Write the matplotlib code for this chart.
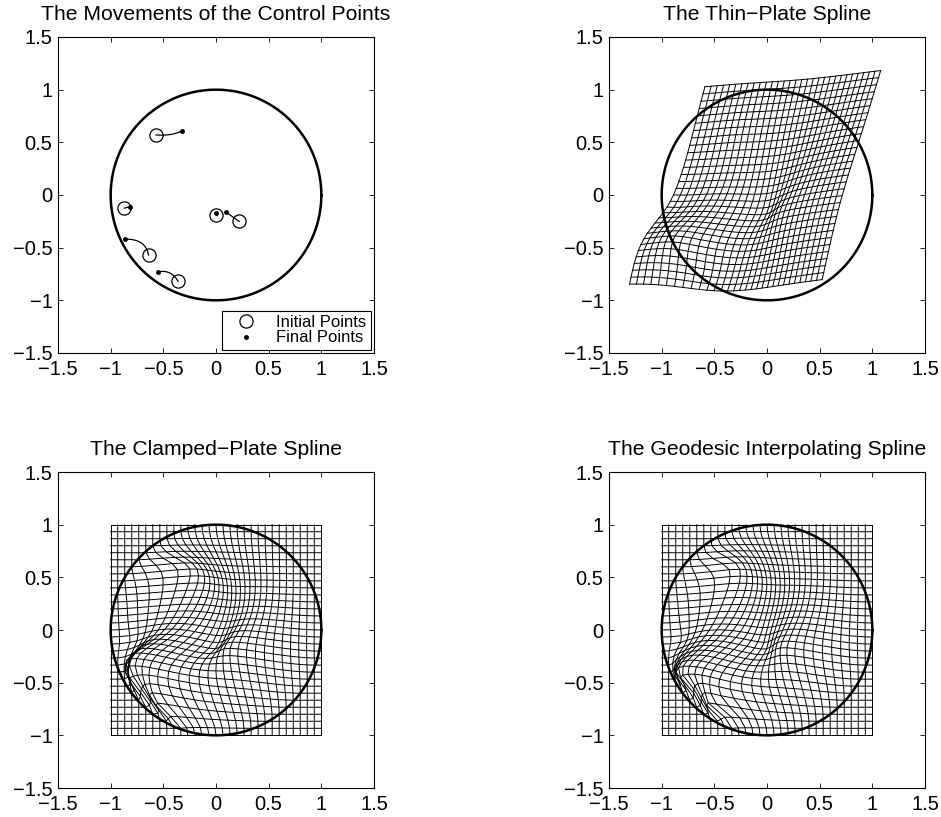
import numpy as np
import matplotlib
matplotlib.use("Agg")
import matplotlib.pyplot as plt

plt.rcParams["font.family"] = ["Liberation Sans", "DejaVu Sans"]

# control points: where they start, where they end, and a point half way
# along the path each one follows
init_x = [-0.57, -0.87, 0.00, 0.22, -0.64, -0.36]
init_y = [0.57, -0.125, -0.19, -0.25, -0.57, -0.82]
final_x = [-0.32, -0.82, 0.00, 0.095, -0.86, -0.55]
final_y = [0.61, -0.11, -0.17, -0.16, -0.42, -0.73]
mid_x = [-0.43, -0.845, 0.00, 0.155, -0.71, -0.44]
mid_y = [0.575, -0.118, -0.18, -0.205, -0.455, -0.74]

n_lines = 31
tick_vals = [-1.5, -1, -0.5, 0, 0.5, 1, 1.5]
tick_text = ["\u22121.5", "\u22121", "\u22120.5", "0", "0.5", "1", "1.5"]

src = np.column_stack([init_x, init_y])
dst = np.column_stack([final_x, final_y])
mid = np.column_stack([mid_x, mid_y])
# quadratic bezier handle so the path passes through mid at t=0.5
handle = 2 * mid - 0.5 * (src + dst)


def path_at(t):
    return (1 - t) ** 2 * src + 2 * t * (1 - t) * handle + t ** 2 * dst


def path_vel(t):
    return 2 * (1 - t) * (handle - src) + 2 * t * (dst - handle)


def tps_kernel(r2):
    out = np.zeros_like(r2)
    nz = r2 > 0
    out[nz] = 0.5 * r2[nz] * np.log(r2[nz])
    return out


def tps_warp(pts):
    n = len(src)
    d2 = ((src[:, None, :] - src[None, :, :]) ** 2).sum(-1)
    P = np.hstack([np.ones((n, 1)), src])
    L = np.zeros((n + 3, n + 3))
    L[:n, :n] = tps_kernel(d2)
    L[:n, n:] = P
    L[n:, :n] = P.T
    rhs = np.zeros((n + 3, 2))
    rhs[:n] = dst
    coef = np.linalg.solve(L, rhs)
    d2p = ((pts[:, None, :] - src[None, :, :]) ** 2).sum(-1)
    return tps_kernel(d2p) @ coef[:n] + coef[n] + pts @ coef[n + 1:]


def cps_kernel(x, y):
    # clamped-plate Green's function on the unit disc
    d2 = ((x[:, None, :] - y[None, :, :]) ** 2).sum(-1)
    xx = (x ** 2).sum(-1)[:, None]
    yy = (y ** 2).sum(-1)[None, :]
    num = xx * yy - 2 * x @ y.T + 1
    dlog = np.zeros_like(d2)
    nz = d2 > 0
    dlog[nz] = d2[nz] * np.log(d2[nz])
    G = 0.5 * (num - d2 - d2 * np.log(num) + dlog)
    return G * (xx < 1)


def cps_warp(pts):
    alpha = np.linalg.solve(cps_kernel(src, src), dst - src)
    return pts + cps_kernel(pts, src) @ alpha


def geodesic_warp(pts, steps=200):
    pts = pts.copy()
    dt = 1.0 / steps

    def vel(x, t):
        p = path_at(t)
        a = np.linalg.solve(cps_kernel(p, p), path_vel(t))
        return cps_kernel(x, p) @ a

    for k in range(steps):
        t = k * dt
        k1 = vel(pts, t)
        k2 = vel(pts + 0.5 * dt * k1, t + 0.5 * dt)
        k3 = vel(pts + 0.5 * dt * k2, t + 0.5 * dt)
        k4 = vel(pts + dt * k3, t + dt)
        pts += dt / 6 * (k1 + 2 * k2 + 2 * k3 + k4)
    return pts


g = np.linspace(-1, 1, n_lines)
gx, gy = np.meshgrid(g, g)
grid_pts = np.column_stack([gx.ravel(), gy.ravel()])

theta = np.linspace(0, 2 * np.pi, 400)


def setup(ax, title):
    ax.set_xlim(-1.5, 1.5)
    ax.set_ylim(-1.5, 1.5)
    ax.set_xticks(tick_vals)
    ax.set_yticks(tick_vals)
    ax.set_xticklabels(tick_text)
    ax.set_yticklabels(tick_text)
    ax.tick_params(direction="in", top=True, right=True, length=3.5,
                   labelsize=14.5, width=0.6)
    ax.tick_params(axis="x", pad=5)
    ax.tick_params(axis="y", pad=4)
    for s in ax.spines.values():
        s.set_linewidth(0.8)
    ax.set_title(title, fontsize=15.2, pad=12)


def draw_grid(ax, warped):
    wx = warped[:, 0].reshape(n_lines, n_lines)
    wy = warped[:, 1].reshape(n_lines, n_lines)
    for i in range(n_lines):
        ax.plot(wx[i], wy[i], color="black", lw=0.7)
        ax.plot(wx[:, i], wy[:, i], color="black", lw=0.7)
    ax.plot(np.cos(theta), np.sin(theta), color="black", lw=1.8)


fig = plt.figure(figsize=(9.41, 8.17), dpi=100)
W, H = 941, 817
pos = {
    "tl": [58 / W, (H - 353) / H, 316 / W, 316 / H],
    "tr": [609 / W, (H - 353) / H, 316 / W, 316 / H],
    "bl": [58 / W, (H - 788) / H, 316 / W, 316 / H],
    "br": [609 / W, (H - 788) / H, 316 / W, 316 / H],
}

ax = fig.add_axes(pos["tl"])
setup(ax, "The Movements of the Control Points")
ax.plot(np.cos(theta), np.sin(theta), color="black", lw=1.8)
ts = np.linspace(0, 1, 50)
for i in range(len(src)):
    trail = np.array([path_at(t)[i] for t in ts])
    ax.plot(trail[:, 0], trail[:, 1], color="black", lw=0.9)
ax.plot(init_x, init_y, "o", mfc="none", mec="black", ms=9.5, mew=0.9,
        label="Initial Points")
ax.plot(final_x, final_y, ".", color="black", ms=5, label="Final Points")
leg = ax.legend(loc="lower right", fontsize=12, fancybox=False,
                edgecolor="black", framealpha=1, borderaxespad=0.2,
                handletextpad=0.6, borderpad=0.25, labelspacing=0.05,
                handlelength=2.4)
leg.get_frame().set_linewidth(0.8)

ax = fig.add_axes(pos["tr"])
setup(ax, "The Thin\u2212Plate Spline")
draw_grid(ax, tps_warp(grid_pts))

ax = fig.add_axes(pos["bl"])
setup(ax, "The Clamped\u2212Plate Spline")
draw_grid(ax, cps_warp(grid_pts))

ax = fig.add_axes(pos["br"])
setup(ax, "The Geodesic Interpolating Spline")
draw_grid(ax, geodesic_warp(grid_pts))

fig.savefig("out.png", dpi=100)
